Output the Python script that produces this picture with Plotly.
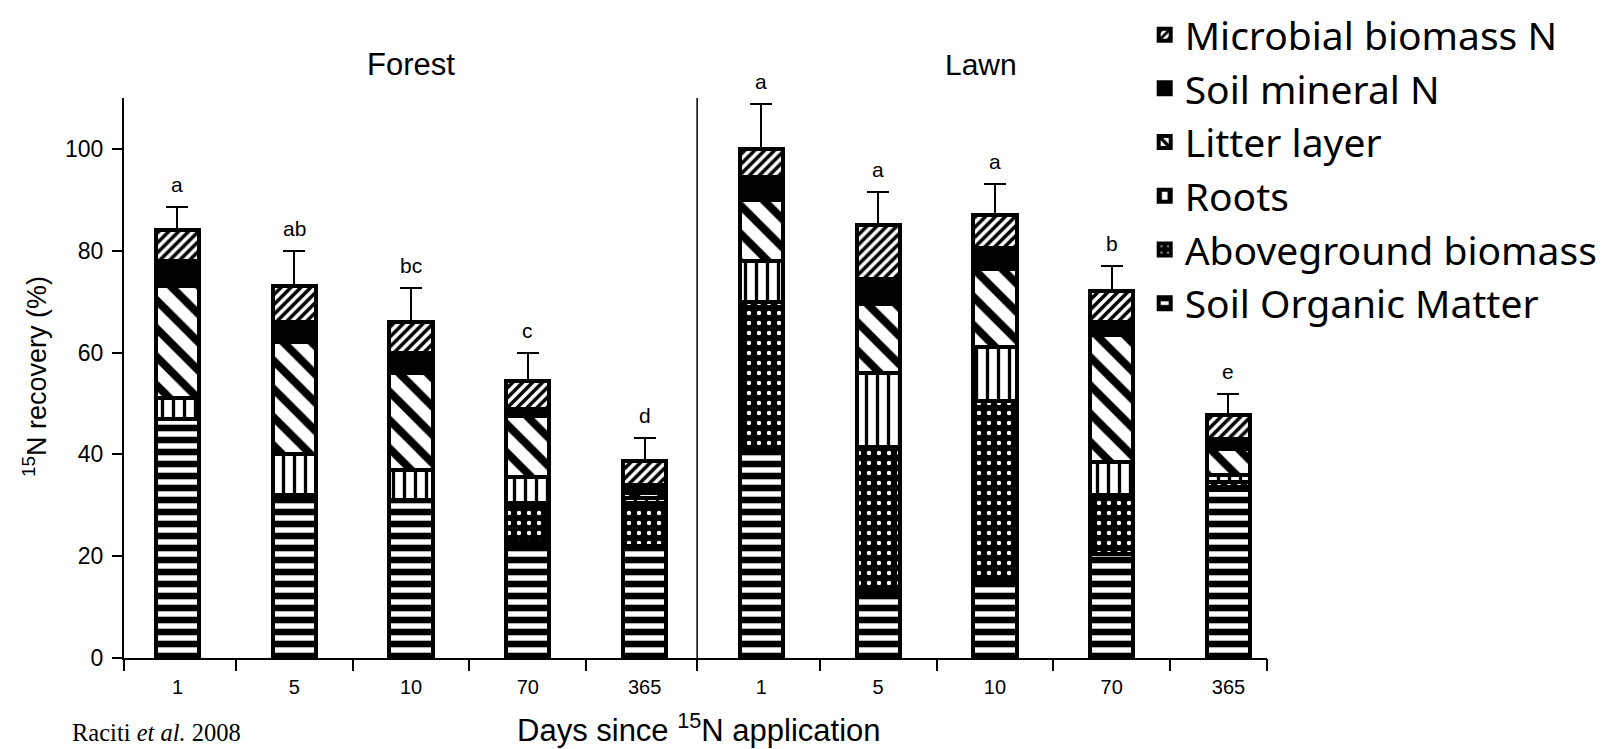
import plotly.graph_objects as go

# ---- data ----
days = ["1", "5", "10", "70", "365", "1", "5", "10", "70", "365"]
som = [47, 32, 31, 22.5, 22, 41.5, 13, 15, 20.5, 33]
aboveground = [0, 0, 0, 8, 8.5, 28.5, 28.5, 35.5, 11.5, 1.5]
roots = [4, 8, 6, 5, 1, 8, 14.5, 10.5, 6.5, 1.5]
litter = [22, 22, 19, 12, 1, 12, 13.5, 15.5, 25, 5]
mineral = [5, 4, 4, 1.5, 1.5, 4.5, 5, 4, 2.5, 2]
microbial = [6, 7, 6, 5.5, 4.6, 5.5, 10.5, 6.5, 6, 4.8]
err_up = [4.5, 7, 6.6, 5.5, 4.7, 8.9, 6.5, 6.2, 5, 4.1]
letters = ["a", "ab", "bc", "c", "d", "a", "a", "a", "b", "e"]
groups = ["Forest", "Lawn"]

xpos = list(range(len(days)))
BAR_W = 0.37
LW = 4
SANS = "Liberation Sans, Arial, Helvetica"

# plot area in page pixels: x 124..1267, y 98..658 (page has an 8px body margin)
PW, PH = 1143, 560
def px(x):
    return (x - 124) / PW
def py(y):
    return (658 - y) / PH

fig = go.Figure()

def add(name, vals, shape, size, solidity, rank, bg="white", fg="black", err=None):
    marker = dict(color="black", line=dict(color="black", width=LW))
    if shape:
        marker["pattern"] = dict(shape=shape, size=size, solidity=solidity,
                                 bgcolor=bg, fgcolor=fg, fillmode="replace")
    kw = {}
    if err is not None:
        kw["error_y"] = dict(type="data", array=err, arrayminus=[0] * len(err),
                             symmetric=False, color="black", thickness=2, width=11)
    fig.add_trace(go.Bar(x=xpos, y=vals, name=name, width=BAR_W, marker=marker,
                         legendrank=rank, **kw))

add("Soil Organic Matter", som, "-", 12, 0.55, 6)
add("Aboveground biomass", aboveground, ".", 10, 0.15, 5, bg="black", fg="white")
add("Roots", roots, "|", 11, 0.3, 4)
add("Litter layer", litter, "\\", 20, 0.4, 3)
add("Soil mineral N", mineral, "", 0, 0, 2)
add("Microbial biomass N", microbial, "/", 7, 0.5, 1, err=err_up)

totals = [sum(v) for v in zip(som, aboveground, roots, litter, mineral, microbial)]
for i, (t, e, l) in enumerate(zip(totals, err_up, letters)):
    fig.add_annotation(x=i, y=t + e, text=l, showarrow=False, xanchor="center",
                       yanchor="bottom", yshift=9,
                       font=dict(family=SANS, size=21, color="black"))

# group labels
fig.add_annotation(x=px(410.7), y=py(64), xref="paper", yref="paper", text=groups[0],
                   xanchor="center", yanchor="middle", showarrow=False,
                   font=dict(family=SANS, size=31, color="black"))
fig.add_annotation(x=px(980.7), y=py(64), xref="paper", yref="paper", text=groups[1],
                   xanchor="center", yanchor="middle", showarrow=False,
                   font=dict(family=SANS, size=30, color="black"))

# axis titles
fig.add_annotation(x=px(699), y=py(728), xref="paper", yref="paper",
                   xanchor="center", yanchor="middle",
                   text="Days since <sup>15</sup>N application", showarrow=False,
                   font=dict(family=SANS, size=31, color="black"))
fig.add_annotation(x=px(35), y=py(377), xref="paper", yref="paper",
                   xanchor="center", yanchor="middle",
                   textangle=-90, text="<sup>15</sup>N recovery (%)", showarrow=False,
                   font=dict(family=SANS, size=27, color="black"))
# citation
fig.add_annotation(x=px(70), y=py(732), xref="paper", yref="paper",
                   xanchor="left", yanchor="middle", text="Raciti <i>et al.</i> 2008",
                   showarrow=False,
                   font=dict(family="Liberation Serif, Times New Roman", size=24.5, color="black"))

# separator between Forest and Lawn
fig.add_shape(type="line", x0=4.45, x1=4.45, y0=0, y1=110, xref="x", yref="y",
              line=dict(color="black", width=1.5))

xr = [-0.458, 9.33]
fig.update_layout(
    width=1610, height=741,
    margin=dict(l=116, r=351, t=90, b=91, autoexpand=False),
    paper_bgcolor="white", plot_bgcolor="white",
    barmode="stack",
    font=dict(family=SANS, color="black"),
    xaxis=dict(range=xr, tickvals=xpos, ticktext=days, ticks="outside", ticklen=10,
               tickcolor="rgba(0,0,0,0)", showline=True, linecolor="black", linewidth=2,
               showgrid=False, zeroline=False, tickfont=dict(size=20)),
    xaxis2=dict(range=xr, overlaying="x", side="bottom", anchor="y",
                tickvals=[-0.458, 0.5, 1.5, 2.5, 3.5, 4.45, 5.5, 6.5, 7.5, 8.5, 9.33],
                ticks="outside", ticklen=12, tickwidth=2, tickcolor="black",
                showticklabels=False, showgrid=False, zeroline=False, showline=False),
    yaxis=dict(range=[0, 110], tickvals=[0, 20, 40, 60, 80, 100], ticks="outside",
               ticklen=10, tickwidth=2, tickcolor="black", showline=True, linecolor="black",
               linewidth=2, showgrid=False, zeroline=False, tickfont=dict(size=23),
               ticklabelstandoff=4),
    legend=dict(x=0.893, y=1.17, xanchor="left", yanchor="top", bgcolor="white",
                traceorder="normal",
                font=dict(family="Noto Sans, Open Sans", size=39, color="black")),
    showlegend=True,
)
# empty helper trace so the tick-only axis is drawn
fig.add_trace(go.Scatter(x=[None], y=[None], xaxis="x2", yaxis="y", showlegend=False,
                         hoverinfo="skip"))

fig.write_html("out.html")
